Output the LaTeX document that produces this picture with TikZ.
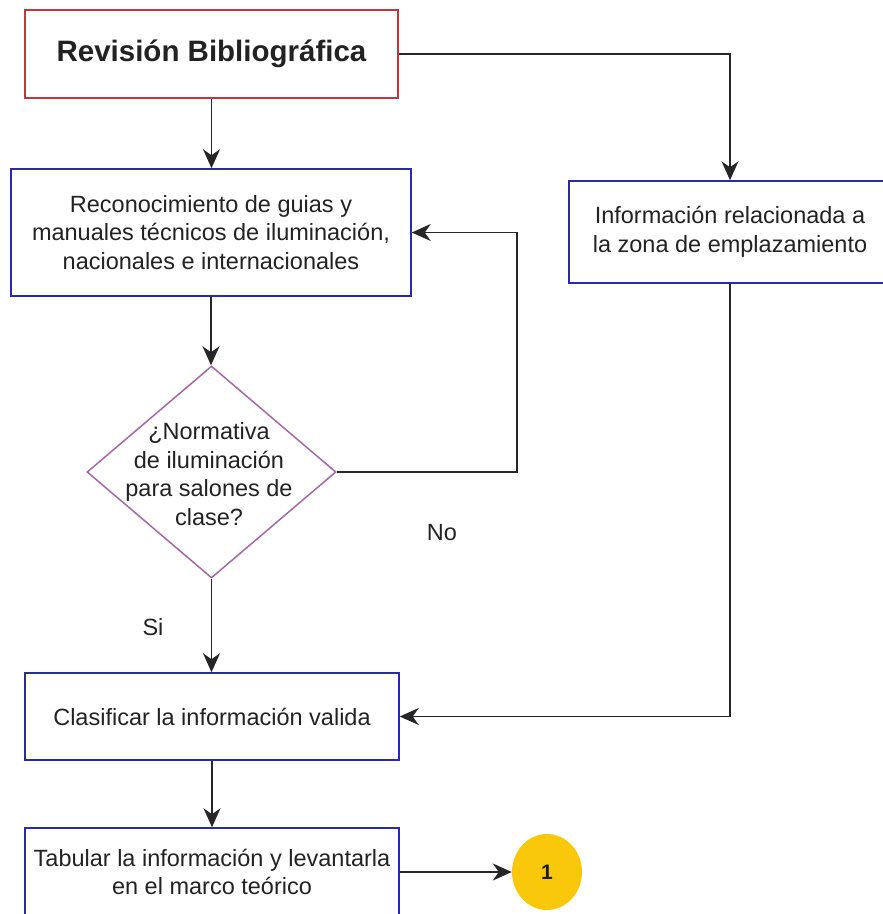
\documentclass[tikz,border=0pt]{standalone}
\usepackage{fontspec}
\setmainfont{Liberation Sans}
\usetikzlibrary{arrows.meta,shapes.geometric}
\definecolor{boxred}{HTML}{C8323C}
\definecolor{boxblue}{HTML}{2A2AA8}
\definecolor{decpurple}{HTML}{A468A8}
\definecolor{connyellow}{HTML}{F9C80A}
\definecolor{inkgray}{HTML}{222222}
\begin{document}
\begin{tikzpicture}[x=1pt,y=-1pt,
  every node/.style={font=\fontsize{23.5}{28.5}\selectfont, text=inkgray},
  procbox/.style={draw=boxblue, line width=1.5pt, rectangle, align=center, inner sep=0pt},
  link/.style={draw=black!85, line width=1.6pt, -{Stealth[length=19pt,width=17pt,inset=6pt]}}
]
\useasboundingbox (0,0) rectangle (883,914);

% process steps
\node[procbox, draw=boxred, minimum width=373pt, minimum height=88pt,
      font=\fontsize{29.5}{34}\selectfont\bfseries] (rb) at (211.5,54) {Revisión Bibliográfica};
\node[procbox, minimum width=400pt, minimum height=127pt] (rg) at (211,232.5)
  {Reconocimiento de guias y\\manuales técnicos de iluminación,\\nacionales e internacionales};
\node[procbox, minimum width=322pt, minimum height=102pt] (iz) at (730,232)
  {Información relacionada a\\la zona de emplazamiento};

% decision
\node[diamond, draw=decpurple, line width=1.5pt, minimum width=249pt, minimum height=212pt,
      inner sep=0pt] (dq) at (211.5,472) {};
\node[align=center] (dqt) at (209,474) {¿Normativa\\de iluminación\\para salones de\\clase?};

\node[procbox, minimum width=374pt, minimum height=87pt] (cl) at (212,716.5)
  {Clasificar la información valida};
\node[procbox, minimum width=374pt, minimum height=88pt] (tb) at (212,872)
  {Tabular la información y levantarla\\en el marco teórico};

% off-page connector
\node[ellipse, fill=connyellow, minimum width=70pt, minimum height=76pt, inner sep=0pt,
      font=\fontsize{21}{24}\selectfont\bfseries, text=inkgray!85!black] (c1) at (547,872) {1};

% branch labels
\node (no) at (442,533) {No};
\node (si) at (153,627) {Si};

% connectors
\draw[link] (rb.south) -- (rb.south |- rg.north);
\draw[link] (rb.east) -| (iz.north);
\draw[link] (rg.south) -- (rg.south |- dq.north);
\coordinate (loop) at (517,232.5);
\draw[link] (dq.east) -| (loop) -- (rg.east);
\draw[link] (dq.south) -- (dq.south |- cl.north);
\draw[link] (iz.south) |- (cl.east);
\draw[link] (cl.south) -- (cl.south |- tb.north);
\draw[link] (tb.east) -- (c1.west);
\end{tikzpicture}
\end{document}
